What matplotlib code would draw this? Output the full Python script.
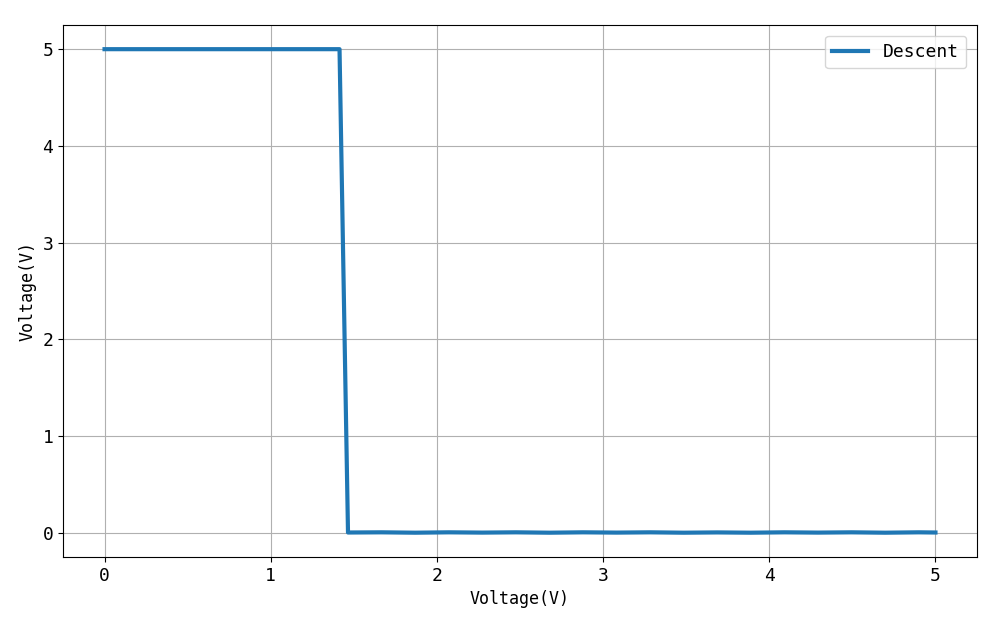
import matplotlib.pyplot as plt

# Data
x_vals = [0.0, 0.505, 1.010, 1.414, 1.465, 1.667, 1.869, 2.071, 2.273, 2.475,
          2.677, 2.879, 3.081, 3.283, 3.485, 3.687, 3.889, 4.091, 4.293, 4.495,
          4.697, 4.899, 5.0]
y_vals = [5.0, 5.0, 5.0, 5.0, 0.0, 0.002, -0.002, 0.002, -0.001, 0.002,
          -0.002, 0.002, -0.001, 0.002, -0.002, 0.001, -0.002, 0.002, -0.001, 0.002,
          -0.002, 0.002, 0.0]
x_ticks = [0, 1, 2, 3, 4, 5]
y_ticks = [0, 1, 2, 3, 4, 5]

plt.rcParams['font.family'] = ['DejaVu Sans Mono', 'Noto Sans CJK SC']

fig = plt.figure(figsize=(10, 6.25), dpi=100)
ax = fig.add_axes([0.063, 0.109, 0.914, 0.851])

ax.plot(x_vals, y_vals, color='#1f77b4', linewidth=3, label='Descent')

ax.set_xticks(x_ticks)
ax.set_yticks(y_ticks)
ax.tick_params(labelsize=13)
ax.set_xlabel('Voltage(V)', fontsize=12)
ax.set_ylabel('Voltage(V)', fontsize=12)
ax.grid(True, color='#b0b0b0', linewidth=0.8)
ax.legend(loc='upper right', fontsize=13, borderaxespad=0.6)

fig.savefig('out.png')
